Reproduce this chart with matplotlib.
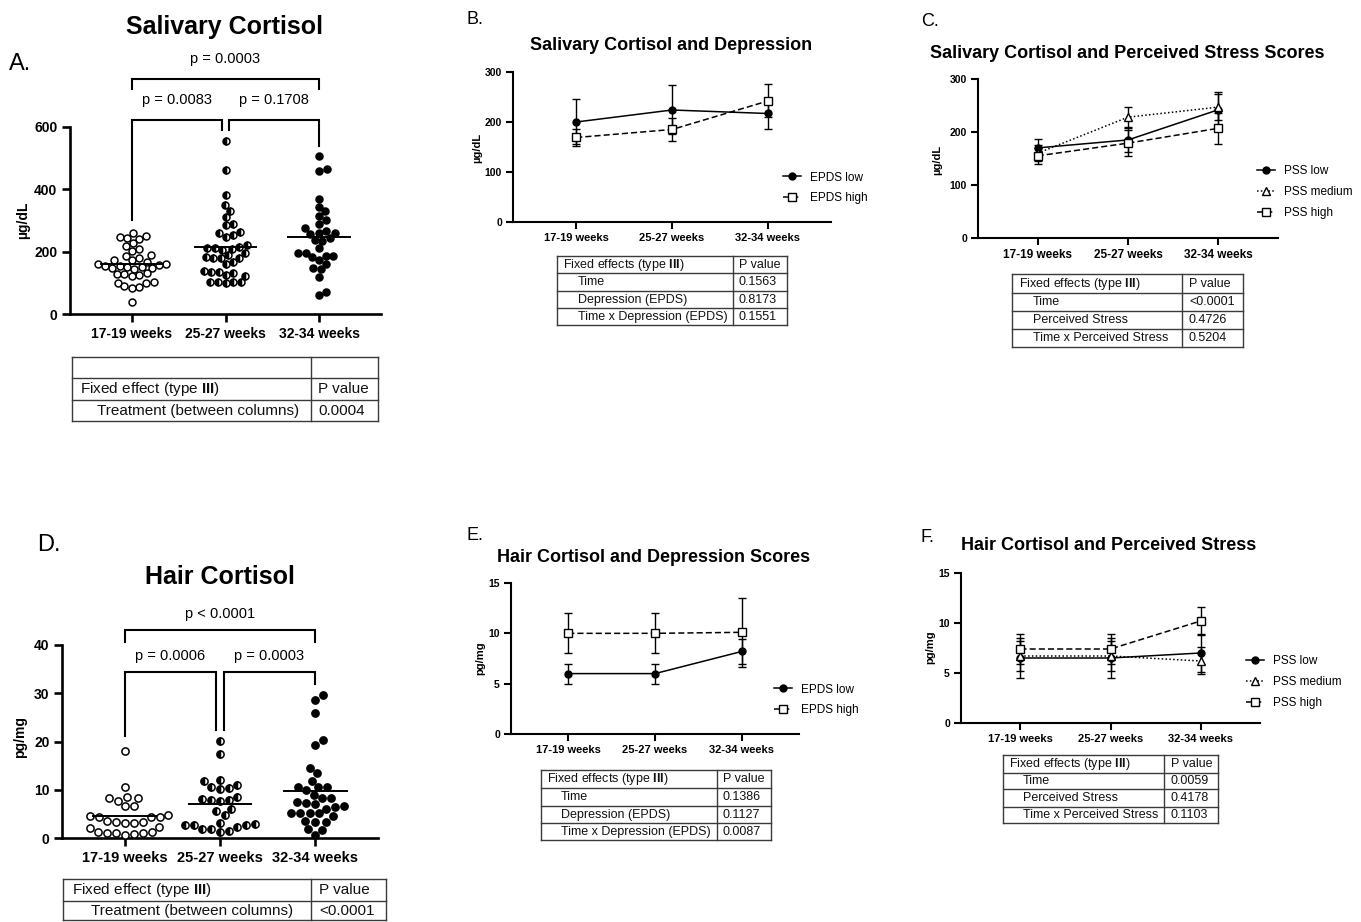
import numpy as np
import matplotlib.pyplot as plt
from matplotlib.lines import Line2D

plt.rcParams['font.family'] = ['Liberation Sans', 'DejaVu Sans']
plt.rcParams['mathtext.fontset'] = 'custom'
plt.rcParams['mathtext.rm'] = 'Liberation Sans'
plt.rcParams['mathtext.bf'] = 'Liberation Sans:bold'

W, H = 1361, 922
weeks = ['17-19 weeks', '25-27 weeks', '32-34 weeks']

# salivary cortisol (ug/dL), one list per sampling window
saliva_t1 = [261, 248, 243, 250, 241, 218, 227, 203, 207, 187, 189, 173, 173, 179, 168,
             162, 160, 158, 155, 153, 152, 150, 148, 147, 145,
             130, 128, 127, 125, 122, 103, 100, 98, 90, 88, 85, 40]
saliva_t2 = [555, 462, 382, 350, 332, 312, 289, 286, 264, 259, 248, 253, 209, 211, 216, 221,
             211, 205, 179, 179, 189, 195, 179, 182, 160, 168, 136, 125, 139, 122, 130, 136,
             102, 104, 100, 102, 102]
saliva_t3 = [507, 459, 465, 369, 344, 330, 316, 302, 275, 289, 266, 259, 261, 235, 256, 243,
             237, 187, 195, 184, 213, 186, 195, 160, 146, 173, 144, 120, 62, 72]

# hair cortisol (pg/mg)
hair_t1 = [18.1, 10.6, 8.2, 8.4, 7.7, 8.2, 6.6, 6.6, 4.6, 4.4, 4.8, 4.3, 4.4, 3.2, 3.4, 3.4,
           3.6, 3.2, 2.3, 2.0, 1.0, 1.3, 1.0, 1.3, 0.8, 1.1, 0.6]
hair_t2 = [20.2, 17.5, 12.0, 11.8, 11.0, 10.6, 10.3, 10.1, 8.4, 8.0, 7.9, 7.8, 7.6, 6.0, 5.5,
           4.8, 3.2, 2.8, 2.7, 2.7, 2.6, 2.2, 1.8, 1.8, 1.5, 1.3]
hair_t3 = [28.7, 29.6, 26.0, 19.3, 20.3, 13.5, 14.6, 11.9, 10.5, 10.6, 9.9, 10.5, 8.2, 8.9, 8.2,
           7.5, 7.0, 6.5, 7.2, 6.6, 6.1, 5.1, 4.6, 5.2, 5.1, 5.1, 3.4, 3.5, 3.4, 1.8, 1.7, 0.6]

saliva_p = ['p = 0.0083', 'p = 0.1708', 'p = 0.0003']
hair_p = ['p = 0.0006', 'p = 0.0003', 'p < 0.0001']

# group means +/- SEM for the line panels
sal_epds_low, sal_epds_low_err = [200, 224, 217], [45, 49, 31]
sal_epds_high, sal_epds_high_err = [169, 185, 242], [17, 23, 33]
sal_pss_low, sal_pss_low_err = [170, 185, 242], [17, 23, 33]
sal_pss_med, sal_pss_med_err = [160, 228, 247], [15, 19, 25]
sal_pss_high, sal_pss_high_err = [155, 179, 207], [15, 24, 29]
hair_epds_low, hair_epds_low_err = [6.0, 6.0, 8.2], [1.0, 1.0, 1.2]
hair_epds_high, hair_epds_high_err = [10.0, 10.0, 10.1], [2.0, 2.0, 3.4]
hair_pss_low, hair_pss_low_err = [6.5, 6.5, 7.0], [2.0, 2.0, 1.9]
hair_pss_med, hair_pss_med_err = [6.7, 6.7, 6.2], [1.5, 1.5, 1.35]
hair_pss_high, hair_pss_high_err = [7.4, 7.4, 10.2], [1.5, 1.5, 1.4]

head1 = r'Fixed effect (type $\mathbf{III}$)'
heads = r'Fixed effects (type $\mathbf{III}$)'
tab_a = [('', ''), (head1, 'P value'), ('Treatment (between columns)', '0.0004')]
tab_b = [(heads, 'P value'), ('Time', '0.1563'),
         ('Depression (EPDS)', '0.8173'), ('Time x Depression (EPDS)', '0.1551')]
tab_c = [(heads, 'P value'), ('Time', '<0.0001'),
         ('Perceived Stress', '0.4726'), ('Time x Perceived Stress', '0.5204')]
tab_d = [(head1, 'P value'), ('Treatment (between columns)', '<0.0001')]
tab_e = [(heads, 'P value'), ('Time', '0.1386'),
         ('Depression (EPDS)', '0.1127'), ('Time x Depression (EPDS)', '0.0087')]
tab_f = [(heads, 'P value'), ('Time', '0.0059'),
         ('Perceived Stress', '0.4178'), ('Time x Perceived Stress', '0.1103')]


def px_axes(fig, l, t, r, b):
    return fig.add_axes([l / W, 1 - b / H, (r - l) / W, (b - t) / H])


def style_axes(ax, lw, xfs, yfs, ticklen, yticks):
    for s in ['top', 'right']:
        ax.spines[s].set_visible(False)
    for s in ['left', 'bottom']:
        ax.spines[s].set_linewidth(lw)
    ax.tick_params(width=lw, length=ticklen, direction='out', pad=3)
    ax.set_xlim(-0.66, 2.66)
    ax.set_ylim(yticks[0], yticks[-1])
    ax.set_xticks(range(3))
    ax.set_xticklabels(weeks, fontsize=xfs, fontweight='bold')
    ax.set_yticks(yticks)
    ax.set_yticklabels([str(t) for t in yticks], fontsize=yfs, fontweight='bold')


# simple beeswarm in pixel space so dots don't overlap
def swarm(vals, d, ppx, ppy):
    vals = np.asarray(vals, float)
    ys = vals * ppy
    px_list, py_list = [], []
    xs = np.zeros(len(vals))
    for i in np.argsort(vals):
        y = ys[i]
        cands = [0.0]
        for px, py in zip(px_list, py_list):
            dy = abs(y - py)
            if dy < d:
                dx = np.sqrt(d * d - dy * dy)
                cands += [px + dx, px - dx]
        cands.sort(key=abs)
        for c in cands:
            if all((c - px) ** 2 + (y - py) ** 2 >= d * d - 1e-6 for px, py in zip(px_list, py_list)):
                break
        px_list.append(c)
        py_list.append(y)
        xs[i] = c / ppx
    return xs


def dot_panel(ax, groups, d, ppx, ppy, ms):
    fills = [dict(mfc='white'), dict(mfc='black', fillstyle='left', markerfacecoloralt='white'),
             dict(mfc='black')]
    for k, (vals, f) in enumerate(zip(groups, fills)):
        xs = k + swarm(vals, d, ppx, ppy)
        ax.plot(xs, vals, 'o', ms=ms, mec='black', mew=1.1, clip_on=False, zorder=3, **f)
        m = np.mean(vals)
        ax.plot([k - 0.33, k + 0.33], [m, m], color='black', lw=1.4, zorder=4)


def bracket(ax, x0, x1, ytop, y0, y1, lw=1.5):
    ax.plot([x0, x0, x1, x1], [y0, ytop, ytop, y1], color='black', lw=lw,
            clip_on=False, solid_joinstyle='miter')


def line_panel(fig, ax, series, legend_xy, fs=8.5):
    handles = []
    for mean, err, marker, ls, mfc, label in series:
        ms = 5.5 if marker != 'o' else 5
        ax.errorbar(range(3), mean, yerr=err, color='black', marker=marker, ls=ls,
                    mfc=mfc, mec='black', ms=ms, mew=1,
                    capsize=3, elinewidth=1, capthick=1, lw=1.1, clip_on=False)
        handles.append(Line2D([], [], color='black', marker=marker, ls=ls, mfc=mfc,
                              mec='black', ms=ms, lw=1.1, label=label))
    ax.legend(handles=handles, loc='center left',
              bbox_to_anchor=(legend_xy[0] / W, 1 - legend_xy[1] / H),
              bbox_transform=fig.transFigure, frameon=False, fontsize=fs,
              handlelength=1.5, handletextpad=0.8, labelspacing=0.75,
              borderpad=0, borderaxespad=0)


def draw_table(ov, left, right, split, edges, rows, fs, xhead, xind, xp):
    kw = dict(color='#3a3a3a', lw=1.0)
    for y in edges:
        ov.plot([left, right], [y, y], **kw)
    for x in (left, split, right):
        ov.plot([x, x], [edges[0], edges[-1]], **kw)
    for i, (a, b) in enumerate(rows):
        yc = (edges[i] + edges[i + 1]) / 2
        xa = xhead if a.startswith('Fixed') else xind
        ov.text(xa, yc, a, fontsize=fs, va='center', ha='left', color='#111111')
        ov.text(xp, yc, b, fontsize=fs, va='center', ha='left', color='#111111')


fig = plt.figure(figsize=(W / 100, H / 100), dpi=100)
ov = fig.add_axes([0, 0, 1, 1])
ov.set_xlim(0, W)
ov.set_ylim(H, 0)
ov.axis('off')

# ---------- A. salivary cortisol dot plot
axA = px_axes(fig, 70, 127, 381, 314)
style_axes(axA, 1.9, 10, 10, 6, [0, 200, 400, 600])
dot_panel(axA, [saliva_t1, saliva_t2, saliva_t3], 7.6, 94, 187 / 600, 5.0)
bracket(axA, 0, 0.96, 622, 302, 590)
bracket(axA, 1.04, 2, 622, 590, 539)
bracket(axA, 0, 2, 754, 722, 722)
axA.text(0.48, 665, saliva_p[0], ha='center', va='bottom', fontsize=10.5)
axA.text(1.52, 665, saliva_p[1], ha='center', va='bottom', fontsize=10.5)
axA.text(1.0, 797, saliva_p[2], ha='center', va='bottom', fontsize=10.5)
fig.text(225 / W, 1 - 27 / H, 'Salivary Cortisol', ha='center', va='center', fontsize=18, fontweight='bold')
fig.text(9 / W, 1 - 64 / H, 'A.', ha='left', va='center', fontsize=17)
fig.text(23 / W, 1 - 220 / H, 'µg/dL', rotation=90, ha='center', va='center', fontsize=10, fontweight='bold')
draw_table(ov, 72, 378, 311, [357, 378, 400, 421], tab_a, 11, 80, 97, 318)

# ---------- D. hair cortisol dot plot
axD = px_axes(fig, 62, 645, 378, 838)
style_axes(axD, 1.9, 10.5, 10, 6, [0, 10, 20, 30, 40])
dot_panel(axD, [hair_t1, hair_t2, hair_t3], 9, 95.5, 193 / 40, 5.2)
bracket(axD, 0, 0.96, 34.4, 21.1, 22.4)
bracket(axD, 1.04, 2, 34.4, 22.4, 31.9)
bracket(axD, 0, 2, 43.1, 40.6, 40.6)
axD.text(0.48, 36.2, hair_p[0], ha='center', va='bottom', fontsize=10.5)
axD.text(1.52, 36.2, hair_p[1], ha='center', va='bottom', fontsize=10.5)
axD.text(1.0, 45.0, hair_p[2], ha='center', va='bottom', fontsize=10.5)
fig.text(220 / W, 1 - 577 / H, 'Hair Cortisol', ha='center', va='center', fontsize=18, fontweight='bold')
fig.text(37 / W, 1 - 545 / H, 'D.', ha='left', va='center', fontsize=17)
fig.text(20 / W, 1 - 737 / H, 'pg/mg', rotation=90, ha='center', va='center', fontsize=10, fontweight='bold')
draw_table(ov, 63, 386, 311, [879, 901, 920], tab_d, 11, 72, 91, 319)

# ---------- B. salivary cortisol x depression
axB = px_axes(fig, 513, 72, 831, 222)
style_axes(axB, 1.5, 8, 7.5, 5, [0, 100, 200, 300])
line_panel(fig, axB, [(sal_epds_low, sal_epds_low_err, 'o', '-', 'black', 'EPDS low'),
                      (sal_epds_high, sal_epds_high_err, 's', (0, (4, 2)), 'white', 'EPDS high')],
           (783, 188))
fig.text(671 / W, 1 - 45 / H, 'Salivary Cortisol and Depression', ha='center', va='center',
         fontsize=13, fontweight='bold')
fig.text(466 / W, 1 - 19 / H, 'B.', ha='left', va='center', fontsize=13)
fig.text(477 / W, 1 - 148 / H, 'µg/dL', rotation=90, ha='center', va='center', fontsize=8, fontweight='bold')
draw_table(ov, 557, 787, 733, [256, 273, 291, 308, 325], tab_b, 9, 563, 578, 739)

# ---------- C. salivary cortisol x perceived stress
axC = px_axes(fig, 978, 79, 1278, 238)
style_axes(axC, 1.5, 8.5, 7.5, 5, [0, 100, 200, 300])
line_panel(fig, axC, [(sal_pss_low, sal_pss_low_err, 'o', '-', 'black', 'PSS low'),
                      (sal_pss_med, sal_pss_med_err, '^', (0, (1, 1.5)), 'white', 'PSS medium'),
                      (sal_pss_high, sal_pss_high_err, 's', (0, (4, 2)), 'white', 'PSS high')],
           (1257, 192))
fig.text(1127 / W, 1 - 53 / H, 'Salivary Cortisol and Perceived Stress Scores', ha='center', va='center',
         fontsize=13, fontweight='bold')
fig.text(921 / W, 1 - 22 / H, 'C.', ha='left', va='center', fontsize=13)
fig.text(937 / W, 1 - 160 / H, 'µg/dL', rotation=90, ha='center', va='center', fontsize=8, fontweight='bold')
draw_table(ov, 1012, 1243, 1182, [274, 293, 311, 329, 347], tab_c, 9, 1019, 1033, 1189)

# ---------- E. hair cortisol x depression
axE = px_axes(fig, 511, 583, 799, 734)
style_axes(axE, 1.5, 8, 7.5, 5, [0, 5, 10, 15])
line_panel(fig, axE, [(hair_epds_low, hair_epds_low_err, 'o', '-', 'black', 'EPDS low'),
                      (hair_epds_high, hair_epds_high_err, 's', (0, (4, 2)), 'white', 'EPDS high')],
           (774, 700))
fig.text(654 / W, 1 - 557 / H, 'Hair Cortisol and Depression Scores', ha='center', va='center',
         fontsize=13, fontweight='bold')
fig.text(466 / W, 1 - 536 / H, 'E.', ha='left', va='center', fontsize=13)
fig.text(480 / W, 1 - 658 / H, 'pg/mg', rotation=90, ha='center', va='center', fontsize=8, fontweight='bold')
draw_table(ov, 541, 771, 717, [770, 788, 806, 823, 840], tab_e, 9, 547, 561, 723)

# ---------- F. hair cortisol x perceived stress
axF = px_axes(fig, 961, 573, 1260, 723)
style_axes(axF, 1.5, 8, 7.5, 5, [0, 5, 10, 15])
line_panel(fig, axF, [(hair_pss_low, hair_pss_low_err, 'o', '-', 'black', 'PSS low'),
                      (hair_pss_med, hair_pss_med_err, '^', (0, (1, 1.5)), 'white', 'PSS medium'),
                      (hair_pss_high, hair_pss_high_err, 's', (0, (4, 2)), 'white', 'PSS high')],
           (1246, 682))
fig.text(1109 / W, 1 - 545 / H, 'Hair Cortisol and Perceived Stress', ha='center', va='center',
         fontsize=13, fontweight='bold')
fig.text(921 / W, 1 - 538 / H, 'F.', ha='left', va='center', fontsize=13)
fig.text(930 / W, 1 - 647 / H, 'pg/mg', rotation=90, ha='center', va='center', fontsize=8, fontweight='bold')
draw_table(ov, 1003, 1218, 1164, [755, 773, 789, 807, 823], tab_f, 9, 1009, 1023, 1171)

fig.savefig('out.png', dpi=100)
